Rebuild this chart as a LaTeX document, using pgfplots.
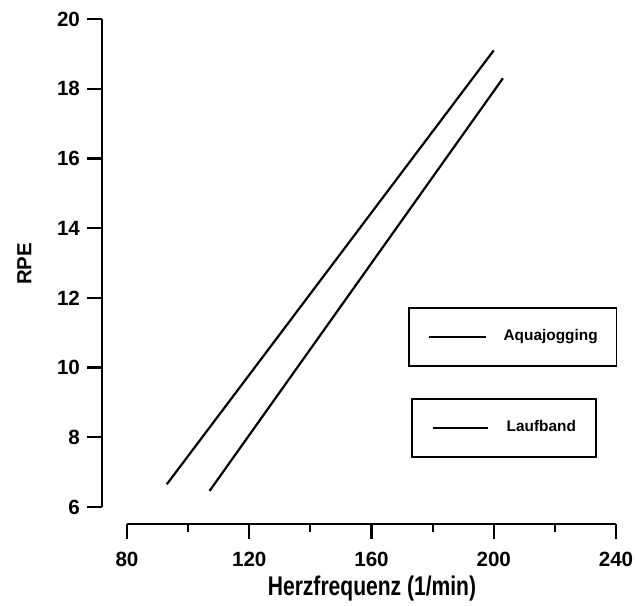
\documentclass[border=0pt]{standalone}
\usepackage{fontspec}
\setmainfont{Liberation Sans}
\usepackage{graphicx}
\usepackage{pgfplots}
\pgfplotsset{compat=1.18}

% 1px of the reference = 0.5pt
\begin{document}
\begin{tikzpicture}
\path[use as bounding box] (-63.5pt,-49pt) rectangle (254pt,253.5pt);
\begin{axis}[
    at={(0pt,0pt)}, anchor=south west,
    scale only axis, width=244.5pt, height=244pt,
    clip=false,
    xmin=80, xmax=240, ymin=6, ymax=20,
    axis lines=left,
    axis line style={-, line width=1.2pt},
    axis x line shift=8.5pt,
    axis y line shift=12.5pt,
    xtick={80,120,...,240},
    minor xtick={100,140,...,220},
    ytick={6,8,...,20},
    tick align=outside,
    major tick length=7.5pt,
    minor tick length=4pt,
    tick style={black, line width=1.1pt},
    /pgf/number format/assume math mode=true,
    ticklabel style={font=\bfseries\fontsize{10.3}{12}\selectfont},
    xticklabel style={yshift=-3pt},
    ylabel={\bfseries\fontsize{10.2}{12}\selectfont RPE},
    ylabel style={at={(axis description cs:-0.21,0.498)}, anchor=center, rotate=0},
    xlabel={\bfseries\fontsize{13.5}{16}\selectfont\scalebox{0.78}[1]{Herzfrequenz (1/min)}},
    xlabel style={at={(axis description cs:0.501,-0.167)}, anchor=center, inner sep=0pt},
    legend style={at={(0.5746,0.4098)}, anchor=north west,
        draw=black, line width=0.8pt,
        inner xsep=9.5pt, inner ysep=11pt, column sep=8.5pt,
        font=\bfseries\fontsize{7.7}{9}\selectfont,
        nodes={inner sep=0pt}},
    legend image code/.code={\draw[line width=0.9pt] (0pt,0pt) -- (28.5pt,0pt);},
]
\addplot[black, line width=1.1pt] coordinates {(93,6.65) (200,19.1)};
\addlegendentry{Aquajogging}
\addplot[black, line width=1.1pt] coordinates {(107,6.46) (203,18.3)};
\end{axis}
\begin{axis}[
    at={(0pt,0pt)}, anchor=south west,
    scale only axis, width=244.5pt, height=244pt,
    hide axis,
    xmin=80, xmax=240, ymin=6, ymax=20,
    legend style={at={(0.5808,0.2234)}, anchor=north west,
        draw=black, line width=0.8pt,
        inner xsep=10pt, inner ysep=11pt, column sep=9pt,
        font=\bfseries\fontsize{7.7}{9}\selectfont,
        nodes={inner sep=0pt}},
    legend image code/.code={\draw[line width=0.9pt] (0pt,0pt) -- (27.5pt,0pt);},
]
\addlegendimage{black}
\addlegendentry{Laufband}
\end{axis}
\end{tikzpicture}
\end{document}
